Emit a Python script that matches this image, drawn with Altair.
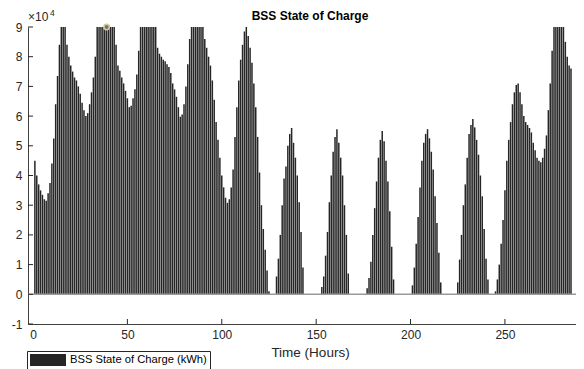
import altair as alt
import pandas as pd

FONT = "Liberation Sans, Arial, Helvetica, sans-serif"
INK = "#262626"

# Hourly battery state of charge (units of 10^4 kWh)
hours = list(range(1, 286))
soc_e4 = [
    4.5, 4.0, 3.7, 3.5, 3.35, 3.2, 3.15, 3.4, 3.75, 4.4,
    5.25, 6.4, 7.35, 8.4, 9.0, 9.0, 9.0, 8.4, 8.0, 7.7,
    7.5, 7.3, 7.2, 7.0, 6.75, 6.45, 6.2, 6.0, 6.1, 6.4,
    6.8, 7.3, 8.0, 9.0, 9.0, 9.0, 9.0, 9.0, 9.0, 9.0,
    9.0, 9.0, 9.0, 8.4, 7.7, 7.53, 7.3, 7.1, 6.85, 6.6,
    6.3, 6.35, 6.6, 6.9, 7.4, 8.2, 9.0, 9.0, 9.0, 9.0,
    9.0, 9.0, 9.0, 9.0, 9.0, 8.3, 8.1, 8.0, 7.9, 7.85,
    7.75, 7.65, 7.45, 7.1, 6.9, 6.65, 6.3, 5.98, 6.05, 6.4,
    7.0, 7.75, 8.6, 9.0, 9.0, 9.0, 9.0, 9.0, 9.0, 9.0,
    8.6, 8.3, 8.0, 7.7, 7.2, 6.55, 5.8, 5.2, 4.6, 4.0,
    3.6, 3.25, 3.08, 3.2, 3.6, 4.2, 5.3, 6.3, 7.2, 7.9,
    8.4, 8.85, 9.0, 8.7, 8.3, 7.8, 7.1, 6.3, 5.3, 4.1,
    3.0, 2.2, 1.5, 0.8, 0.1, 0, 0, 0, 0.6, 1.2,
    2.0, 3.0, 3.9, 4.3, 5.0, 5.4, 5.6, 5.1, 4.6, 4.0,
    3.1, 2.1, 0.9, 0, 0, 0, 0, 0, 0, 0,
    0, 0, 0.25, 0.6, 1.3, 2.1, 3.1, 4.0, 4.8, 5.3,
    5.56, 5.1, 4.6, 4.0, 3.0, 2.0, 0.7, 0, 0, 0,
    0, 0, 0, 0, 0, 0, 0.2, 0.55, 1.1, 2.0,
    2.9, 3.8, 4.6, 5.2, 5.5, 5.15, 4.5, 3.8, 2.8, 1.6,
    0.5, 0, 0, 0, 0, 0, 0, 0, 0, 0,
    0.3, 0.9, 1.7, 2.6, 3.6, 4.5, 5.1, 5.4, 5.56, 5.25,
    4.8, 4.2, 3.3, 2.4, 1.4, 0.4, 0, 0, 0, 0,
    0, 0, 0, 0, 0.4, 1.17, 2.0, 3.0, 3.7, 4.6,
    5.4, 5.7, 5.9, 5.62, 5.2, 4.7, 4.0, 3.3, 2.2, 1.2,
    0.5, 0, 0, 0, 0.1, 0.5, 1.0, 1.7, 2.5, 3.5,
    4.5, 5.2, 5.8, 6.4, 6.8, 7.05, 7.1, 6.8, 6.4, 6.0,
    5.8, 5.7, 5.6, 5.45, 5.1, 4.85, 4.6, 4.5, 4.45, 4.6,
    4.9, 5.35, 6.2, 7.1, 8.2, 9.0, 9.0, 9.0, 9.0, 9.0,
    9.0, 8.5, 8.0, 7.7, 7.6,
]
series_name = "BSS State of Charge (kWh)"
chart_title = "BSS State of Charge"
x_ticks = [0, 50, 100, 150, 200, 250]
y_ticks = [-10000, 0, 10000, 20000, 30000, 40000, 50000, 60000, 70000, 80000, 90000]
tip_hour = [39]
tip_soc = [90000]

df = pd.DataFrame({
    "hour": hours,
    "soc": [v * 10000 for v in soc_e4],
    "series": [series_name] * len(hours),
})

W, H = 548, 297
xs = alt.Scale(domain=[0, 285], nice=False, zero=False)
ys = alt.Scale(domain=[-10000, 90000], nice=False, zero=False)

x_axis = alt.Axis(
    values=x_ticks, tickSize=0, grid=False, title="Time (Hours)",
    labelPadding=5, titlePadding=5, titleX=282, titleAlign="center",
    titleFontSize=13.5, titleFontWeight="normal", labelOverlap=False)
y_axis = alt.Axis(
    values=y_ticks, tickSize=0, grid=False, title=None,
    labelExpr="datum.value / 10000", labelPadding=6,
    labelOverlap=False, labelBound=False)

bars = alt.Chart(df).mark_bar(width=1.5, clip=True).encode(
    x=alt.X("hour:Q", scale=xs, axis=x_axis),
    y=alt.Y("soc:Q", scale=ys, axis=y_axis),
    color=alt.Color("series:N", scale=alt.Scale(range=["#262626"]), legend=alt.Legend(
        title=None, orient="none", legendX=-1, legendY=324,
        symbolType="M-3,-1H3V1H-3Z", symbolSize=144, symbolOffset=12,
        symbolStrokeWidth=0, labelOffset=16, padding=3,
        strokeColor=INK, fillColor="white",
        labelFont=FONT, labelFontSize=11.2, labelColor="#000")),
)

baseline = alt.Chart(pd.DataFrame({"z": [0]})).mark_rule(
    color="#9a9a9a", strokeWidth=1.5).encode(
    y=alt.Y("z:Q", scale=ys, axis=y_axis))

xtick = alt.Chart(pd.DataFrame({"t": x_ticks[1:]})).mark_rule(
    color=INK, strokeWidth=1).encode(
    x=alt.X("t:Q", scale=xs, axis=x_axis), y=alt.value(H), y2=alt.value(H - 5))

ytick = alt.Chart(pd.DataFrame({"t": y_ticks})).mark_rule(
    color=INK, strokeWidth=1).encode(
    y=alt.Y("t:Q", scale=ys, axis=y_axis), x=alt.value(0), x2=alt.value(5))

tip = alt.Chart(pd.DataFrame({"hour": tip_hour, "soc": tip_soc})).mark_point(
    filled=True, size=30, fill="#777777", stroke="#d8cc9c", strokeWidth=1.5,
    opacity=1).encode(x=alt.X("hour:Q", scale=xs, axis=x_axis),
                      y=alt.Y("soc:Q", scale=ys, axis=y_axis))

mult = alt.Chart(pd.DataFrame({"a": [0]})).mark_text(
    text="×10", align="left", baseline="alphabetic", fontSize=12,
    font=FONT, color=INK).encode(x=alt.value(0), y=alt.value(-6))
sup = alt.Chart(pd.DataFrame({"a": [0]})).mark_text(
    text="4", align="left", baseline="alphabetic", fontSize=8.5,
    font=FONT, color=INK).encode(x=alt.value(22), y=alt.value(-11))

title = alt.Chart(pd.DataFrame({"a": [0]})).mark_text(
    text=chart_title, align="center", baseline="alphabetic", fontSize=12,
    fontWeight="bold", font=FONT, color="#000").encode(
    x=alt.value(282), y=alt.value(-7))

chart = alt.layer(bars, baseline, xtick, ytick, tip, mult, sup, title).properties(
    width=W, height=H,
    padding={"left": 20, "top": 19, "right": 0, "bottom": 45},
    autosize=alt.AutoSizeParams(type="none"),
).configure_view(stroke=None).configure_axis(
    domainColor="#404040", domainWidth=1, labelColor=INK, labelFont=FONT,
    labelFontSize=12, titleFont=FONT, titleColor=INK,
)

chart.save("out.html", embed_options={"renderer": "svg", "actions": False})
